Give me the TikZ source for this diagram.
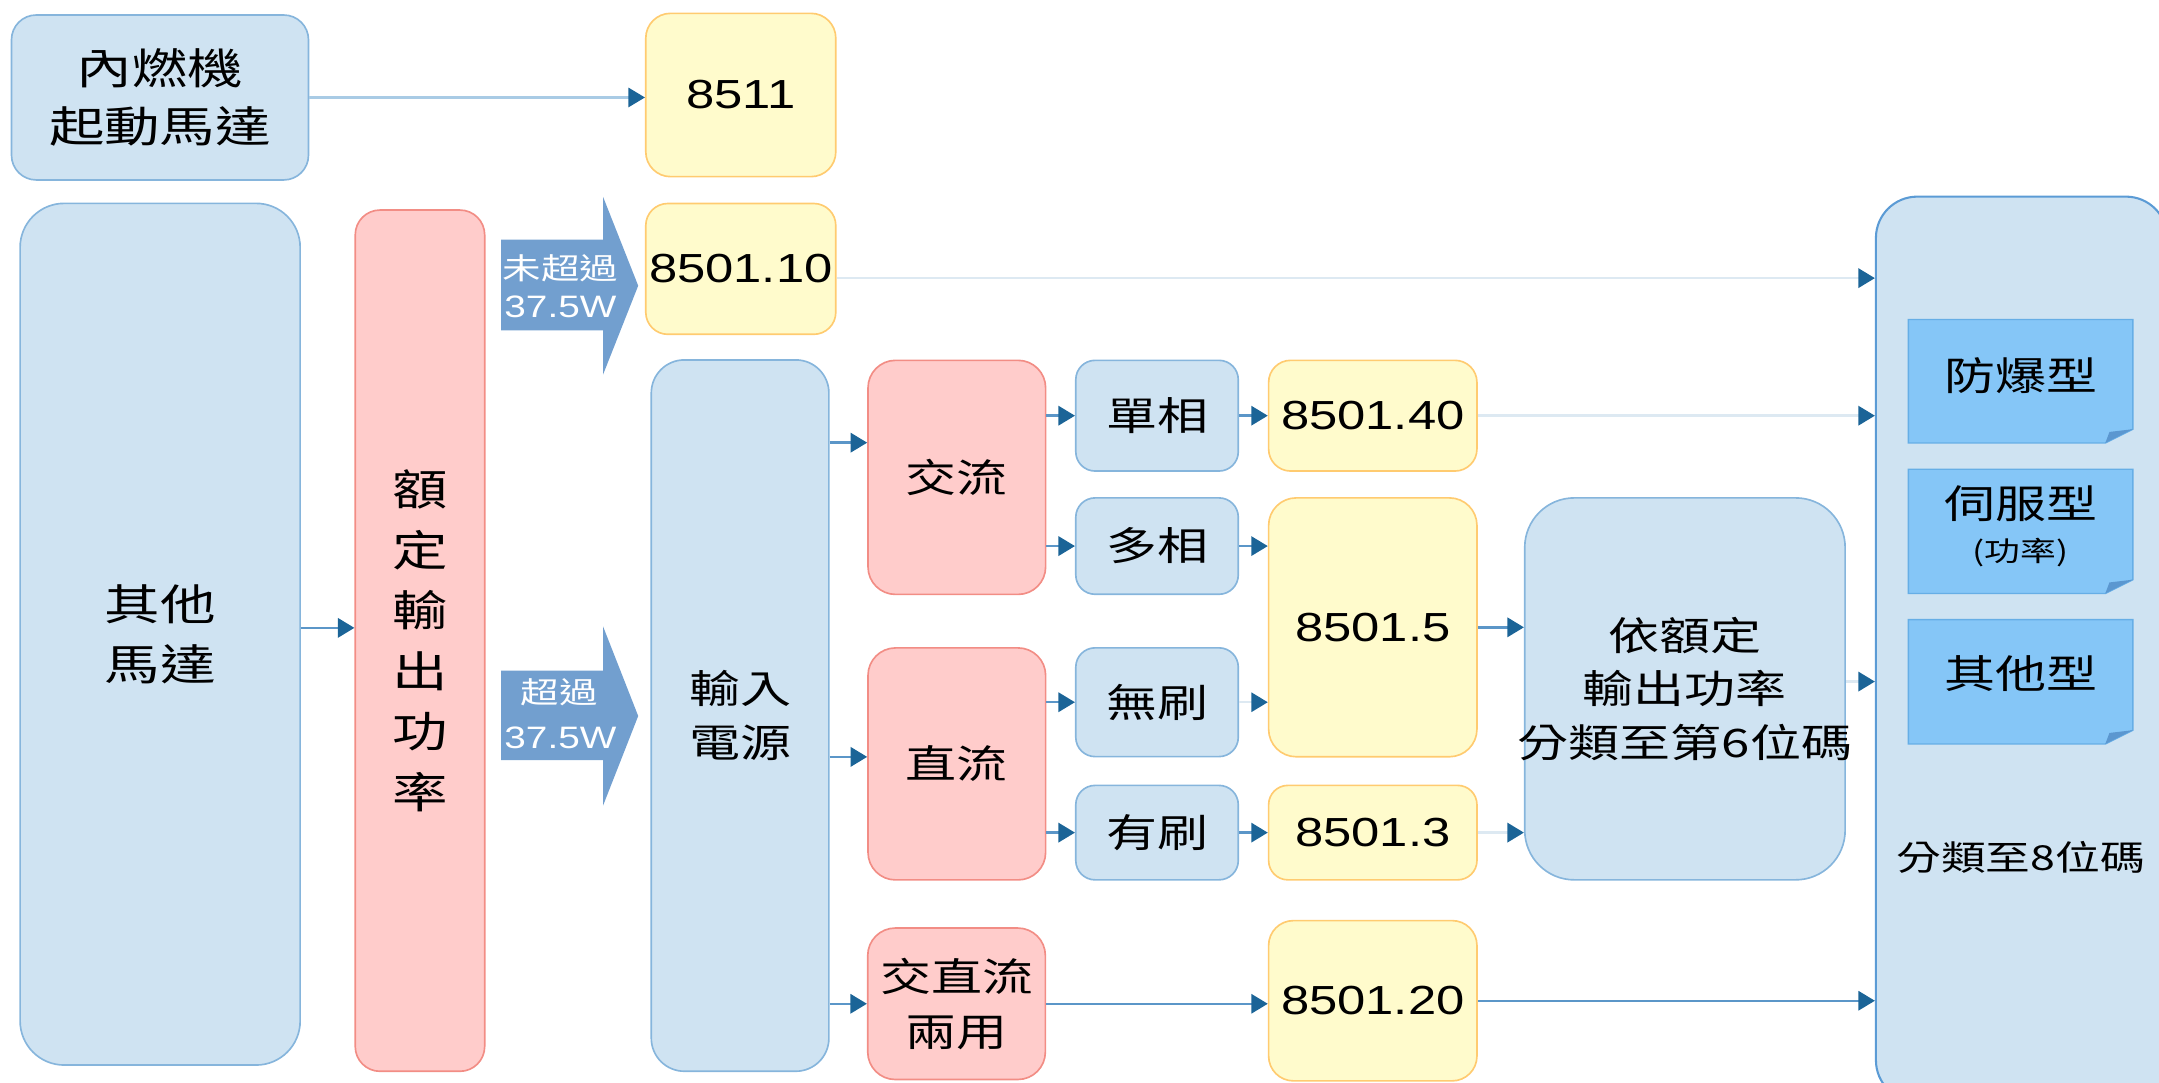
\documentclass[tikz,border=0pt]{standalone}
\usepackage{fontspec}
\setmainfont{Liberation Sans}[FakeStretch=1.25]
\newfontfamily\cjk{Noto Sans CJK TC}[FakeStretch=1.3]
\usetikzlibrary{arrows.meta,calc}
\definecolor{lbfill}{HTML}{CFE3F2}
\definecolor{lbdraw}{HTML}{86B5DC}
\definecolor{bigdraw}{HTML}{5B9BD5}
\definecolor{pkfill}{HTML}{FFCCCB}
\definecolor{pkdraw}{HTML}{F28D85}
\definecolor{ylfill}{HTML}{FFFBCC}
\definecolor{yldraw}{HTML}{FFCB70}
\definecolor{ntfill}{HTML}{85C6F7}
\definecolor{ntdraw}{HTML}{66AEE6}
\definecolor{ntfold}{HTML}{5B97D0}
\definecolor{bigarr}{HTML}{729FCF}
\definecolor{tipc}{HTML}{1B6497}
\definecolor{lnmid}{HTML}{5B96C8}
\definecolor{lnlight}{HTML}{A9CBE5}
\definecolor{lnfaint}{HTML}{DDE9F2}
\begin{document}
\begin{tikzpicture}[x=1pt,y=-1pt,
  boxbase/.style={draw, line width=1.2pt, inner sep=0pt, align=center, text=black},
  bbox/.style={boxbase, fill=lbfill, draw=lbdraw},
  pbox/.style={boxbase, fill=pkfill, draw=pkdraw},
  ybox/.style={boxbase, fill=ylfill, draw=yldraw},
  cjkL/.style={font=\fontsize{31}{42}\cjk},
  cjkM/.style={font=\fontsize{28.5}{39}\cjk},
  numf/.style={font=\fontsize{29.5}{35}\selectfont},
  conn/.style={line width=1.8pt, draw=lnmid, -{Triangle[length=12pt,width=14pt,color=tipc,fill=tipc]}},
  faint/.style={draw=lnfaint},
  arrtxt/.style={text=white, inner sep=0pt}
]
\useasboundingbox (0,0) rectangle (1568,786);

% level coordinates
\coordinate (yA) at (0,202);
\coordinate (yB) at (0,456);
\coordinate (yC) at (0,321.5);
\coordinate (yD) at (0,549.7);
\coordinate (yE) at (0,495);

% top row
\node[bbox, rounded corners=18pt, minimum width=215.7pt, minimum height=119.8pt, cjkL] (nr) at (116.2,70.8) {內燃機\\起動馬達};
\node[ybox, rounded corners=18pt, minimum width=138pt, minimum height=118.6pt, numf] (n8511) at (538,69) {8511};
\node[ybox, rounded corners=16pt, minimum width=138pt, minimum height=95pt, numf] (n10) at (538,195.3) {8501.10};

% left columns
\node[bbox, rounded corners=32pt, minimum width=203.4pt, minimum height=625.8pt, font=\fontsize{31}{43.4}\cjk] (qt) at (116.3,460.6) {其他\\馬達};
\node[pbox, rounded corners=18pt, minimum width=94pt, minimum height=625.5pt, font=\fontsize{31}{44}\cjk] (ed) at (305,465.3) {額\\定\\輸\\出\\功\\率};
\node[bbox, rounded corners=24pt, minimum width=129pt, minimum height=516.6pt, cjkM] (inp) at (537.5,519.7) {輸入\\電源};

% big arrows
\fill[bigarr] (364,174) -- (438,174) -- (438,143) -- (463.5,207.5) -- (438,272) -- (438,240) -- (364,240) -- cycle;
\fill[bigarr] (364,487) -- (438,487) -- (438,455) -- (463.5,520) -- (438,585) -- (438,552) -- (364,552) -- cycle;
\node[arrtxt, font=\fontsize{21.5}{25}\cjk] (t1a) at (407,195) {未超過};
\node[arrtxt, font=\fontsize{22.5}{25}\selectfont] (t1b) at (407,223) {37.5W};
\node[arrtxt, font=\fontsize{21.5}{25}\cjk] (t2a) at (406,503) {超過};
\node[arrtxt, font=\fontsize{22.5}{25}\selectfont] (t2b) at (407,536) {37.5W};

% AC / DC
\node[pbox, rounded corners=20pt, minimum width=129pt, minimum height=170pt, cjkM] (jl) at (694.9,346.7) {交流};
\node[pbox, rounded corners=20pt, minimum width=129pt, minimum height=168.5pt, cjkM] (zl) at (694.9,554.8) {直流};
\node[pbox, rounded corners=20pt, minimum width=129pt, minimum height=110pt, font=\fontsize{28.5}{40}\cjk] (jz) at (694.7,729) {交直流\\兩用};

\node[bbox, rounded corners=14pt, minimum width=118pt, minimum height=80.4pt, cjkM] (dan) at (840.3,301.9) {單相};
\node[bbox, rounded corners=14pt, minimum width=118pt, minimum height=70pt, cjkM] (duo) at (840.3,396.6) {多相};
\node[bbox, rounded corners=14pt, minimum width=118pt, minimum height=79pt, cjkM] (wu) at (840.3,510) {無刷};
\node[bbox, rounded corners=14pt, minimum width=118pt, minimum height=68.6pt, cjkM] (you) at (840.3,604.7) {有刷};

\node[ybox, rounded corners=16pt, minimum width=151.3pt, minimum height=80.4pt, numf] (n40) at (997,301.9) {8501.40};
\node[ybox, rounded corners=20pt, minimum width=151.3pt, minimum height=188pt, numf] (n5) at (997,455.6) {8501.5};
\node[ybox, rounded corners=14pt, minimum width=151.3pt, minimum height=68.6pt, numf] (n3) at (997,604.7) {8501.3};
\node[ybox, rounded corners=18pt, minimum width=151.3pt, minimum height=116.4pt, numf] (n20) at (997,726.8) {8501.20};

\node[bbox, rounded corners=36pt, minimum width=232.7pt, minimum height=277.4pt] (yi) at (1223.7,500.3) {};
\node[cjkM, align=center, inner sep=0pt] (yitxt) at (yi.center) {依額定\\輸出功率\\分類至第6位碼};

% big right box
\node[bbox, draw=bigdraw, line width=1.5pt, rounded corners=30pt, minimum width=211.6pt, minimum height=657.2pt] (big) at (1468.2,471.4) {};
\foreach \ya/\yb in {232/321.7, 340.8/431, 450/540.3} {
  \filldraw[fill=ntfill, draw=ntdraw, line width=1pt] (1386,\ya) -- (1549,\ya) -- (1549,{\yb-10}) -- (1529,\yb) -- (1386,\yb) -- cycle;
  \fill[ntfold] (1529,\yb) -- (1549,{\yb-10}) -- (1532,{\yb-8}) -- cycle;
}
\node[cjkM, inner sep=0pt] (fb) at (1467.5,273) {防爆型};
\node[cjkM, inner sep=0pt] (sf) at (1467.5,366) {伺服型};
\node[font=\fontsize{20}{24}\cjk, inner sep=0pt] (gl) at (1467.5,401) {(功率)};
\node[cjkM, inner sep=0pt] (qx) at (1467.5,489) {其他型};
\node[font=\fontsize{25}{30}\cjk, inner sep=0pt] (fl8) at (1467.5,622.5) {分類至8位碼};

% connectors
\draw[conn, draw=lnlight, line width=1.5pt] (nr.east) -- (nr.east -| n8511.west);
\draw[conn, faint] (n10.east |- yA) -- (big.west |- yA);
\draw[conn] (qt.east |- yB) -- (ed.west |- yB);
\draw[conn] (inp.east |- yC) -- (jl.west |- yC);
\draw[conn] (inp.east |- yD) -- (zl.west |- yD);
\draw[conn] (inp.east |- jz.west) -- (jz.west);
\draw[conn] (jl.east |- dan.west) -- (dan.west);
\draw[conn] (jl.east |- duo.west) -- (duo.west);
\draw[conn] (zl.east |- wu.west) -- (wu.west);
\draw[conn] (zl.east |- you.west) -- (you.west);
\draw[conn] (dan.east) -- (dan.east -| n40.west);
\draw[conn] (duo.east) -- (duo.east -| n5.west);
\draw[conn, faint] (wu.east) -- (wu.east -| n5.west);
\draw[conn] (you.east) -- (you.east -| n3.west);
\draw[conn, faint] (n40.east) -- (n40.east -| big.west);
\draw[conn] (n5.east) -- (n5.east -| yi.west);
\draw[conn, faint] (n3.east) -- (n3.east -| yi.west);
\draw[conn, faint] (yi.east |- yE) -- (big.west |- yE);
\draw[conn] (jz.east) -- (jz.east -| n20.west);
\draw[conn] (n20.east) -- (n20.east -| big.west);
\end{tikzpicture}
\end{document}
